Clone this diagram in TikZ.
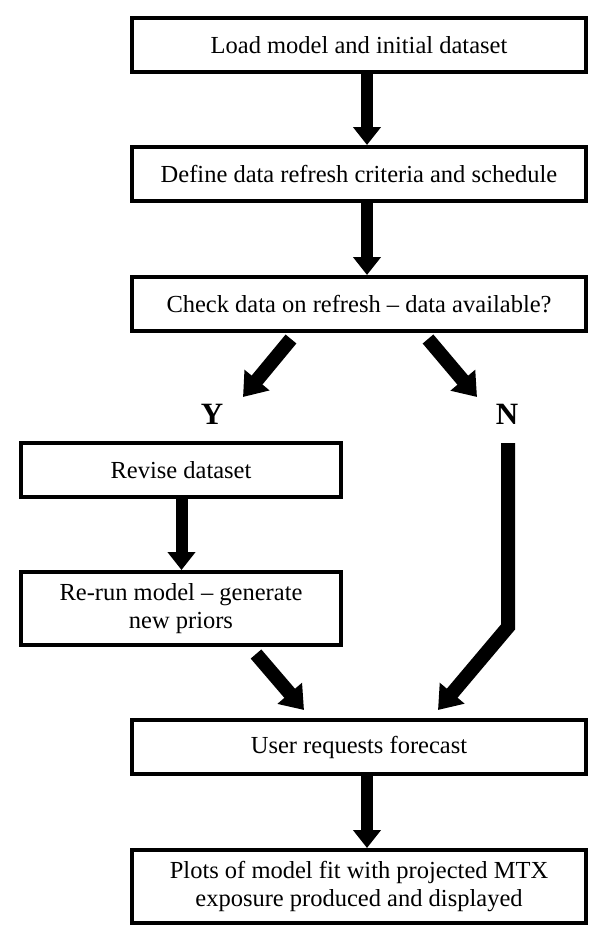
\documentclass[tikz,border=0pt]{standalone}
\usepackage{fontspec}
\setmainfont{Liberation Serif}
\usetikzlibrary{arrows.meta,calc}
\begin{document}
\begin{tikzpicture}[x=1pt,y=-1pt,
  box/.style={draw, line width=4pt, minimum width=454pt, minimum height=54pt,
    inner sep=0pt, align=center, font=\fontsize{24.5}{28}\selectfont},
  tall/.style={minimum height=73pt},
  narrow/.style={minimum width=320pt},
  arr/.style={line width=12pt, -{Triangle[width=27pt,length=18pt]}},
  darr/.style={line width=14pt, line join=miter, -{Triangle[width=31pt,length=22pt]}},
  lbl/.style={inner sep=0pt, font=\fontsize{31}{31}\selectfont\bfseries}]
\useasboundingbox (0,0) rectangle (600,937);
\node[box] (b1) at (359,45) {Load model and initial dataset};
\node[box] (b2) at (359,174) {Define data refresh criteria and schedule};
\node[box] (b3) at (359,304) {Check data on refresh -- data available?};
\node[lbl] (ylab) at (212,414) {Y};
\node[lbl] (nlab) at (507,414) {N};
\node[box,narrow] (b4) at (181,470) {Revise dataset};
\node[box,narrow,tall] (b5) at (181,608.5) {Re-run model -- generate\\new priors};
\node[box] (b6) at (359,747) {User requests forecast};
\node[box,tall] (b7) at (359,886.5) {Plots of model fit with projected MTX\\exposure produced and displayed};

\draw[arr] ([xshift=8]b1.south) -- ([xshift=8]b2.north);
\draw[arr] ([xshift=8]b2.south) -- ([xshift=8]b3.north);
\draw[darr] ([shift={(-68,6)}]b3.south) -- ([shift={(31,-17)}]ylab.center);
\draw[darr] ([shift={(69,6)}]b3.south) -- ([shift={(-30,-17)}]nlab.center);
\draw[arr] ([xshift=0.5]b4.south) -- ([xshift=0.5]b5.north);
\draw[darr] ([shift={(75,7)}]b5.south) -- ([shift={(-55,-8)}]b6.north);
\draw[darr] ([shift={(1,29)}]nlab.center) -- ++(0,184) -- ([shift={(79,-8)}]b6.north);
\draw[arr] ([xshift=8]b6.south) -- ([xshift=8]b7.north);
\end{tikzpicture}
\end{document}
